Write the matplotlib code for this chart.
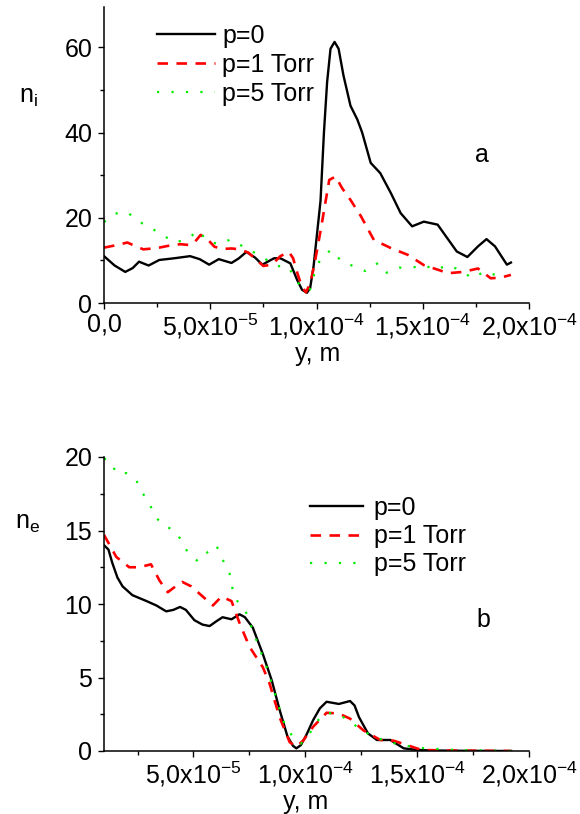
import numpy as np
import matplotlib
matplotlib.use("Agg")
import matplotlib.pyplot as plt
from matplotlib.ticker import MultipleLocator, FixedLocator, FixedFormatter

plt.rcParams['font.family'] = ['Liberation Sans', 'DejaVu Sans']
plt.rcParams['mathtext.fontset'] = 'custom'
plt.rcParams['mathtext.rm'] = 'Liberation Sans'
plt.rcParams['mathtext.it'] = 'Liberation Sans'
plt.rcParams['mathtext.bf'] = 'Liberation Sans:bold'

# ---------------- data (y in units of 1e-5 m) ----------------
labels = ["p=0", "p=1 Torr", "p=5 Torr"]

# panel a: ion density n_i
ni_p0_y = [0, 0.5, 1.0, 1.35, 1.65, 2.1, 2.6, 3.3, 4.05, 4.5, 4.95, 5.4, 6.0, 6.35,
           6.7, 7.1, 7.45, 8.0, 8.3, 8.77, 9.09, 9.32, 9.55, 9.7, 9.86, 10.19, 10.35,
           10.5, 10.66, 10.85, 11.04, 11.27, 11.6, 11.92, 12.15, 12.55, 13.0, 13.5,
           13.96, 14.5, 15.05, 15.7, 16.2, 16.6, 17.1, 17.6, 18.0, 18.4, 18.96, 19.15]
ni_p0 = [11.0, 8.8, 7.3, 8.2, 9.7, 8.8, 10.1, 10.5, 11.0, 10.3, 9.0, 10.3, 9.4, 10.5,
         12.0, 10.7, 9.0, 10.5, 10.5, 9.3, 5.4, 3.1, 2.4, 3.5, 8.5, 24.0, 40.0,
         51.9, 59.7, 61.3, 59.7, 53.4, 46.3, 43.1, 40.0, 32.9, 30.5, 25.8,
         21.1, 18.0, 19.1, 18.4, 14.9, 12.1, 10.8, 13.3, 15.0, 13.3, 9.0, 9.5]

ni_p1_y = [0, 0.5, 1.1, 1.5, 1.85, 2.5, 3.1, 3.6, 4.05, 4.3, 4.55, 4.9, 5.2, 5.6, 6.0,
           6.4, 6.8, 7.2, 7.5, 7.9, 8.3, 8.7, 8.9, 9.1, 9.3, 9.5, 9.7, 9.9, 10.2, 10.6,
           10.9, 11.2, 11.6, 12.1, 12.7, 13.5, 14.3, 15.05, 15.6, 16.2, 16.9, 17.6,
           18.2, 18.7, 19.15]
ni_p1 = [13.0, 13.5, 14.2, 13.3, 12.6, 12.9, 13.5, 13.8, 13.6, 14.5, 16.0, 14.8, 13.2,
         12.7, 12.8, 12.6, 11.8, 10.0, 8.7, 9.0, 11.0, 12.0, 10.5, 7.0, 4.0, 2.5, 4.5,
         9.0, 17.2, 28.9, 29.7, 27.0, 24.2, 20.3, 14.8, 12.9, 11.3, 8.9, 8.0, 7.0, 7.3,
         8.1, 5.8, 6.0, 6.6]

ni_p5_y = [0, 0.52, 1.1, 1.65, 2.25, 2.8, 3.35, 3.9, 4.45, 4.85, 5.4, 5.95, 6.5, 7.05,
           7.6, 8.15, 8.7, 9.0, 9.4, 9.7, 10.0, 10.3, 10.7, 11.1, 11.7, 12.3, 12.9,
           13.3, 13.9, 14.5, 15.05, 15.6, 16.2, 16.7, 17.35, 17.9, 18.9]
ni_p5 = [19.0, 21.0, 21.3, 19.1, 17.5, 15.8, 14.2, 15.0, 17.0, 14.6, 13.8, 14.9, 13.4,
         11.9, 10.3, 8.7, 8.4, 5.5, 3.2, 3.2, 8.7, 11.0, 12.5, 10.2, 8.7, 7.5, 9.4,
         7.1, 8.3, 8.3, 8.9, 7.8, 8.9, 7.8, 5.8, 7.4, 5.8]

# panel b: electron density n_e
ne_p0_y = [1.0, 1.2, 1.37, 1.6, 1.83, 2.27, 2.9, 3.34, 3.78, 4.1, 4.4, 4.66, 5.04, 5.4,
           5.72, 6.0, 6.3, 6.7, 7.06, 7.3, 7.65, 8.1, 8.5, 8.85, 9.2, 9.45, 9.6, 9.8,
           10.05, 10.35, 10.65, 10.95, 11.5, 12.0, 12.2, 12.4, 12.8, 13.2, 13.8, 14.4,
           15.0, 15.6, 16.5, 17.5, 19.2]
ne_p0 = [14.0, 13.7, 12.8, 11.8, 11.2, 10.6, 10.2, 9.9, 9.5, 9.6, 9.8, 9.6, 8.9, 8.6,
         8.5, 8.8, 9.1, 8.96, 9.3, 9.1, 8.4, 6.6, 4.8, 2.8, 1.0, 0.35, 0.18, 0.4,
         1.1, 2.1, 2.9, 3.35, 3.2, 3.4, 3.1, 2.3, 1.2, 0.75, 0.75, 0.18,
         0.07, 0.04, 0.02, 0.01, 0.0]

ne_p1_y = [1.0, 1.55, 2.13, 2.58, 3.1, 3.48, 3.85, 4.2, 4.5, 4.9, 5.27, 5.87, 6.25, 6.7,
           7.06, 7.5, 8.1, 8.4, 8.85, 9.3, 9.6, 9.9, 10.35, 10.95, 11.5, 12.0, 12.6,
           13.35, 13.95, 14.55, 15.2, 16.5, 19.2]
ne_p1 = [14.7, 13.2, 12.5, 12.5, 12.7, 11.6, 10.8, 11.2, 11.5, 11.2, 10.7, 9.9, 10.5,
         10.2, 8.7, 7.1, 5.7, 4.6, 2.3, 0.6, 0.3, 0.7, 1.65, 2.6, 2.55, 2.2, 1.4,
         0.75, 0.7, 0.4, 0.07, 0.03, 0.0]

ne_p5_y = [1.0, 1.3, 1.55, 2.0, 2.45, 2.7, 3.03, 3.25, 3.6, 4.15, 4.45, 4.75, 5.2, 5.57,
           6.02, 6.25, 6.47, 6.7, 6.75, 6.98, 7.36, 7.65, 8.0, 8.3, 8.6, 8.9, 9.1, 9.5,
           9.8, 10.2, 10.5, 10.95, 11.5, 12.0, 12.45, 13.0, 13.6, 14.3, 15.25, 16.7, 19.2]
ne_p5 = [19.9, 19.7, 18.9, 18.9, 18.4, 17.6, 16.85, 16.05, 15.4, 15.0, 14.35, 13.5,
         12.9, 13.45, 14.0, 13.2, 12.5, 11.8, 10.9, 10.15, 9.4, 8.2, 6.8, 5.6, 4.1,
         2.6, 1.7, 0.85, 0.5, 1.2, 2.0, 2.6, 2.5, 2.0, 1.5, 1.0, 0.68, 0.4, 0.2,
         0.07, 0.0]

xticks_a = [0.0, 5e-5, 1e-4, 1.5e-4, 2e-4]
xticklabels_a = ["0,0", r"5,0x10$^{\mathregular{-5}}$", r"1,0x10$^{\mathregular{-4}}$",
                 r"1,5x10$^{\mathregular{-4}}$", r"2,0x10$^{\mathregular{-4}}$"]
xticks_b = [5e-5, 1e-4, 1.5e-4, 2e-4]
xticklabels_b = xticklabels_a[1:]
yticks_a = [0, 20, 40, 60]
yticks_b = [0, 5, 10, 15, 20]

SCALE = 1e-5
FS = 18

W, H = 580, 814
fig = plt.figure(figsize=(W / 100, H / 100), dpi=100)


def fx(px):
    return px / W


def fy(py):
    return 1 - py / H


styles = [
    dict(color="black", lw=1.7, linestyle="-", solid_joinstyle="round"),
    dict(color="#ff0000", lw=1.9, linestyle=(0, (4, 3.2)), dash_joinstyle="round"),
    dict(color="#00ee00", lw=1.6, linestyle=(0, (1, 5.5))),
]


def style_axes(ax):
    for s in ("top", "right"):
        ax.spines[s].set_visible(False)
    for s in ("left", "bottom"):
        ax.spines[s].set_linewidth(1.1)
    ax.tick_params(which="both", direction="out", width=1.0, labelsize=FS)
    ax.tick_params(axis="y", which="both", pad=4)
    ax.tick_params(axis="x", which="both", pad=2)
    ax.tick_params(which="major", length=4.5)
    ax.tick_params(which="minor", length=3)


# panel a
axa = fig.add_axes([fx(104), fy(303), fx(529) - fx(104), fy(7) - fy(303)])
for xs, ys, st, lab in zip([ni_p0_y, ni_p1_y, ni_p5_y], [ni_p0, ni_p1, ni_p5], styles, labels):
    axa.plot(np.array(xs) * SCALE, ys, label=lab, **st)
axa.set_xlim(0, 2e-4)
axa.set_ylim(0, 69.5)
axa.xaxis.set_major_locator(FixedLocator(xticks_a))
axa.xaxis.set_major_formatter(FixedFormatter(xticklabels_a))
axa.xaxis.set_minor_locator(MultipleLocator(2.5e-5))
axa.yaxis.set_major_locator(FixedLocator(yticks_a))
axa.yaxis.set_minor_locator(MultipleLocator(10))
style_axes(axa)
axa.legend(loc="upper left", bbox_to_anchor=(fx(157), fy(24)), bbox_transform=fig.transFigure,
           frameon=False, fontsize=FS, borderpad=0, borderaxespad=0,
           handlelength=2.3, handletextpad=0.3, labelspacing=0.2)

# panel b
axb = fig.add_axes([fx(104), fy(751), fx(529) - fx(104), fy(457) - fy(751)])
for xs, ys, st, lab in zip([ne_p0_y, ne_p1_y, ne_p5_y], [ne_p0, ne_p1, ne_p5], styles, labels):
    axb.plot(np.array(xs) * SCALE, ys, label=lab, **st)
axb.set_xlim(1e-5, 2e-4)
axb.set_ylim(0, 20)
axb.xaxis.set_major_locator(FixedLocator(xticks_b))
axb.xaxis.set_major_formatter(FixedFormatter(xticklabels_b))
axb.xaxis.set_minor_locator(FixedLocator([2.5e-5, 7.5e-5, 1.25e-4, 1.75e-4]))
axb.yaxis.set_major_locator(FixedLocator(yticks_b))
axb.yaxis.set_minor_locator(MultipleLocator(2.5))
style_axes(axb)
axb.legend(loc="upper left", bbox_to_anchor=(fx(310), fy(496)), bbox_transform=fig.transFigure,
           frameon=False, fontsize=FS, borderpad=0, borderaxespad=0,
           handlelength=2.1, handletextpad=0.45, labelspacing=0.17)

# axis titles and panel letters
fig.text(fx(28), fy(97), r"n$_\mathregular{i}$", fontsize=FS, ha="center", va="center")
fig.text(fx(28), fy(523), r"n$_\mathregular{e}$", fontsize=FS, ha="center", va="center")
fig.text(fx(318), fy(354), "y, m", fontsize=FS, ha="center", va="center")
fig.text(fx(306), fy(802), "y, m", fontsize=FS, ha="center", va="center")
fig.text(fx(482), fy(155), "a", fontsize=FS, ha="center", va="center")
fig.text(fx(483), fy(620), "b", fontsize=FS, ha="center", va="center")

fig.savefig("out.png", dpi=100)
